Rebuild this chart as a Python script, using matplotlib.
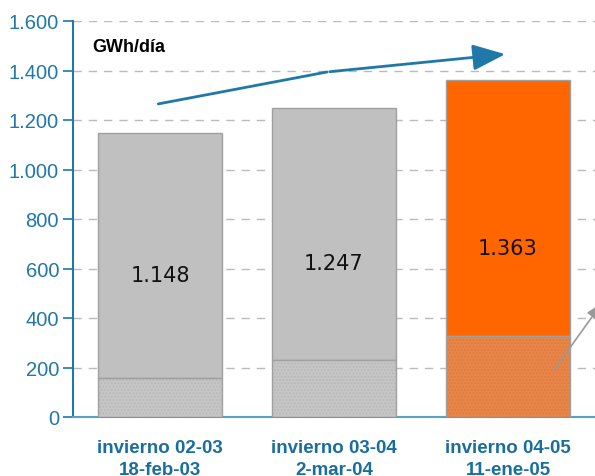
# bar chart: GWh/dia winter peak demand

import matplotlib.pyplot as plt
from matplotlib.ticker import FuncFormatter

plt.rcParams['font.family'] = ['Liberation Sans', 'DejaVu Sans']

categories = ['invierno 02-03\n18-feb-03', 'invierno 03-04\n2-mar-04', 'invierno 04-05\n11-ene-05']
totals = [1148, 1247, 1363]
base_part = [156, 231, 328]
labels = ['1.148', '1.247', '1.363']
top_colors = ['#C0C0C0', '#C0C0C0', '#FF6600']
base_colors = ['#C6C6C6', '#C6C6C6', '#E8864A']
yticks = [0, 200, 400, 600, 800, 1000, 1200, 1400, 1600]

# trend arrow points (data coords)
trend_x = [-0.01, 0.96, 2.0]
trend_y = [1265, 1394, 1467]

blue = '#1F78A8'

fig = plt.figure(figsize=(5.95, 4.77), dpi=100)
ax = fig.add_axes([73 / 595, 59 / 477, (595 - 73) / 595, 396 / 477])

x = range(len(categories))
w = 0.713
upper = [t - b for t, b in zip(totals, base_part)]

ax.bar(x, upper, w, bottom=base_part, color=top_colors, edgecolor='#A0A0A0', linewidth=1, zorder=3)
ax.bar(x, base_part, w, color=base_colors, edgecolor=['#B8B8B8', '#B8B8B8', '#E07A3C'],
       linewidth=0, hatch='.....', zorder=3)
ax.bar(x, base_part, w, fill=False, edgecolor='#A0A0A0', linewidth=1, zorder=4)

for i, (t, lab) in enumerate(zip(totals, labels)):
    ax.text(i, t / 2, lab, ha='center', va='center', fontsize=15, color='#111111',
            family='DejaVu Sans', zorder=5)

ax.set_xlim(-0.5, 2.5)
ax.set_ylim(0, 1600)
ax.set_yticks(yticks)
ax.yaxis.set_major_formatter(FuncFormatter(lambda v, p: f'{int(v):,}'.replace(',', '.')))
ax.set_xticks(list(x))
ax.set_xticklabels(categories, fontsize=13.5, fontweight='bold', color='#1A6E9E', linespacing=1.4)
ax.tick_params(axis='x', length=0, pad=16)
ax.tick_params(axis='y', colors=blue, labelsize=14.5, length=7, width=1.2, direction='out', pad=3)
for lab in ax.get_yticklabels():
    lab.set_color(blue)

ax.grid(axis='y', color='#BBBBBB', linestyle=(0, (6, 5)), linewidth=1, zorder=0)
ax.spines['top'].set_visible(False)
ax.spines['right'].set_visible(False)
ax.spines['left'].set_color(blue)
ax.spines['left'].set_linewidth(1.5)
ax.spines['bottom'].set_color('#5AA0CC')
ax.spines['bottom'].set_linewidth(1.5)

ax.text(0.036, 0.925, 'GWh/día', transform=ax.transAxes, fontsize=13, fontweight='bold', color='black')

# rising trend arrow
ax.plot(trend_x[:2], trend_y[:2], color=blue, linewidth=2, zorder=6, solid_capstyle='round')
ax.annotate('', xy=(trend_x[2], trend_y[2]), xytext=(trend_x[1], trend_y[1]),
            arrowprops=dict(arrowstyle='-|>,head_length=2.0,head_width=0.8', color=blue, lw=2), zorder=6)

# small gray arrow on the right
ax.annotate('', xy=(2.55, 470), xytext=(2.26, 186), annotation_clip=False,
            arrowprops=dict(arrowstyle='-|>,head_length=1.0,head_width=0.4', color='#999999', lw=1.2), zorder=6)

fig.savefig('out.png', dpi=100)
